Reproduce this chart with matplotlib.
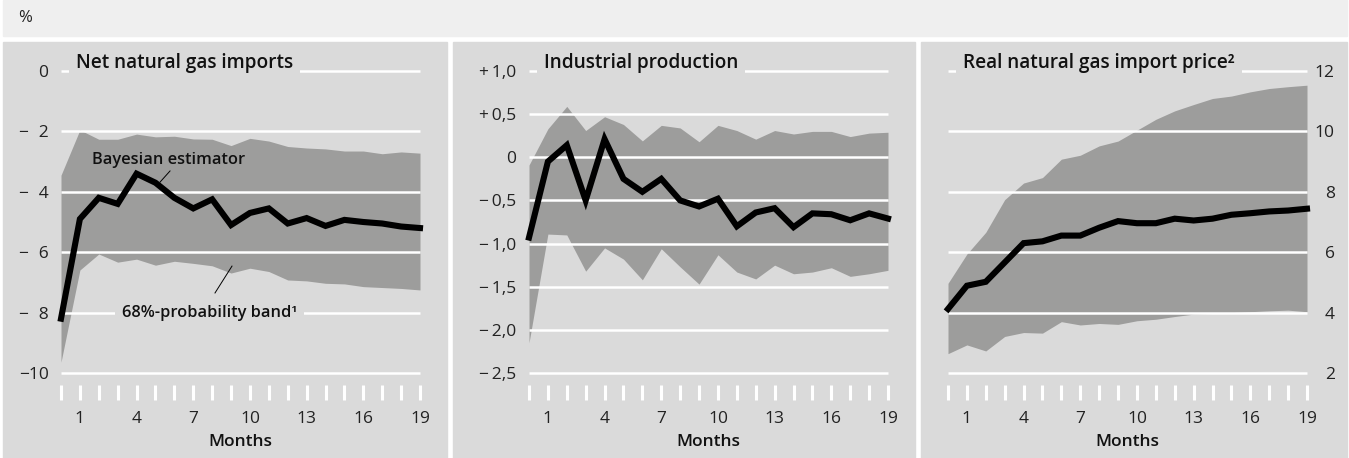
import matplotlib
matplotlib.use("Agg")
import matplotlib.pyplot as plt
from matplotlib.patches import Rectangle

plt.rcParams["font.family"] = ["Open Sans", "DejaVu Sans"]

# months after the shock
months = list(range(20))
month_ticks = [1, 4, 7, 10, 13, 16, 19]

# Net natural gas imports (%)
imports_est = [-8.2, -4.9, -4.2, -4.4, -3.4, -3.7, -4.2, -4.55, -4.25, -5.1,
               -4.7, -4.55, -5.05, -4.87, -5.13, -4.93, -5.0, -5.05, -5.15, -5.2]
imports_hi = [-3.45, -1.95, -2.26, -2.26, -2.09, -2.18, -2.16, -2.25, -2.26, -2.47,
              -2.23, -2.32, -2.5, -2.55, -2.58, -2.65, -2.65, -2.74, -2.68, -2.72]
imports_lo = [-9.64, -6.59, -6.06, -6.33, -6.23, -6.43, -6.3, -6.37, -6.45, -6.69,
              -6.53, -6.64, -6.92, -6.95, -7.03, -7.05, -7.14, -7.17, -7.2, -7.25]

# Industrial production (%)
prod_est = [-0.93, -0.05, 0.14, -0.5, 0.21, -0.25, -0.40, -0.25, -0.5, -0.57,
            -0.48, -0.80, -0.64, -0.59, -0.81, -0.65, -0.66, -0.73, -0.65, -0.71]
prod_hi = [-0.09, 0.33, 0.59, 0.31, 0.47, 0.38, 0.19, 0.37, 0.34, 0.18,
           0.37, 0.31, 0.21, 0.31, 0.27, 0.30, 0.30, 0.24, 0.28, 0.29]
prod_lo = [-2.15, -0.89, -0.90, -1.32, -1.05, -1.18, -1.42, -1.06, -1.27, -1.47,
           -1.13, -1.33, -1.41, -1.25, -1.35, -1.33, -1.28, -1.38, -1.35, -1.31]

# Real natural gas import price (%)
price_est = [4.12, 4.89, 5.02, 5.66, 6.30, 6.36, 6.55, 6.55, 6.81, 7.03,
             6.96, 6.96, 7.11, 7.05, 7.11, 7.24, 7.29, 7.35, 7.38, 7.44]
price_hi = [4.97, 5.94, 6.66, 7.74, 8.29, 8.47, 9.08, 9.21, 9.52, 9.68,
            10.04, 10.40, 10.68, 10.89, 11.09, 11.17, 11.31, 11.42, 11.48, 11.53]
price_lo = [2.64, 2.93, 2.73, 3.21, 3.34, 3.32, 3.70, 3.59, 3.64, 3.61,
            3.73, 3.78, 3.87, 3.95, 3.97, 4.0, 4.03, 4.06, 4.08, 4.03]

imports_yticks = [0, -2, -4, -6, -8, -10]
imports_ylabels = ["0", "\u2212\u20072", "\u2212\u20074", "\u2212\u20076", "\u2212\u20078", "\u221210"]
prod_yticks = [1.0, 0.5, 0, -0.5, -1.0, -1.5, -2.0, -2.5]
prod_ylabels = ["+\u20091,0", "+\u20090,5", "0", "\u2212\u20090,5", "\u2212\u20091,0",
                "\u2212\u20091,5", "\u2212\u20092,0", "\u2212\u20092,5"]
price_yticks = [12, 10, 8, 6, 4, 2]
price_ylabels = ["12", "10", "8", "6", "4", "2"]

W, H = 1349, 458
PANEL_BG = "#dadada"
BAND = "#9d9d9c"
TEXT = "#111111"


def px_rect(x0, y0, x1, y1):
    return [x0 / W, 1 - y1 / H, (x1 - x0) / W, (y1 - y0) / H]


fig = plt.figure(figsize=(W / 100, H / 100), dpi=100, facecolor="white")

# background strips
for x0, y0, x1, y1, c in [(3, 0, 1347, 36, "#efefef"),
                          (3, 42, 447, 458, PANEL_BG),
                          (453, 42, 915, 458, PANEL_BG),
                          (921, 42, 1347, 458, PANEL_BG)]:
    fig.patches.append(Rectangle((x0 / W, 1 - y1 / H), (x1 - x0) / W, (y1 - y0) / H,
                                 transform=fig.transFigure, color=c, zorder=-10))

fig.text(18 / W, 1 - 18 / H, "%", fontsize=12, va="center", ha="left", color="#222222")


def panel(x0, est, lo, hi, yticks, ylabels, title, right=False):
    x1 = x0 + 359
    ax = fig.add_axes(px_rect(x0, 65, x1, 400))
    ax.set_zorder(2)
    ax.set_facecolor("none")
    for s in ax.spines.values():
        s.set_visible(False)

    vmax, vmin = max(yticks), min(yticks)
    scale = (373 - 71) / (vmax - vmin)
    ax.set_ylim(vmin - 27 / scale, vmax + 6 / scale)
    ax.set_xlim(0, 19)

    ax.fill_between(months, lo, hi, color=BAND, lw=0, zorder=1)
    ax.hlines(yticks, 0, 19, color="white", lw=1.8, zorder=2, clip_on=False)
    ax.plot(months, est, color="black", lw=4.4, zorder=4, clip_on=False,
            solid_joinstyle="miter")

    ax.set_xticks(months)
    ax.set_xticklabels([str(m) if m in month_ticks else "" for m in months])
    ax.tick_params(axis="x", direction="in", length=10.8, width=2.2, color="white",
                   labelsize=12.5, labelcolor="#222222", pad=8)
    ax.set_xlabel("Months", fontsize=12.5, color=TEXT, fontweight="semibold", labelpad=5)

    ax.set_yticks(yticks)
    ax.set_yticklabels(ylabels)
    if right:
        ax.yaxis.tick_right()
        ax.tick_params(axis="y", length=0, labelsize=12.5, labelcolor="#222222", pad=20)
        for t in ax.get_yticklabels():
            t.set_ha("right")
    else:
        ax.tick_params(axis="y", length=0, labelsize=12.5, labelcolor="#222222", pad=9)

    ax.annotate(title, xy=(0, vmax), xytext=(10.8, 2.2), textcoords="offset points",
                fontsize=13.7, fontweight="semibold", va="baseline", ha="left",
                color=TEXT, zorder=5,
                bbox=dict(facecolor=PANEL_BG, edgecolor="none", pad=5))
    return ax


ax1 = panel(61, imports_est, imports_lo, imports_hi, imports_yticks, imports_ylabels,
            "Net natural gas imports")
ax2 = panel(529, prod_est, prod_lo, prod_hi, prod_yticks, prod_ylabels,
            "Industrial production")
ax3 = panel(948, price_est, price_lo, price_hi, price_yticks, price_ylabels,
            "Real natural gas import price\u00b2", right=True)

# labels inside the first panel
ax1.text(1.64, -2.95, "Bayesian estimator", fontsize=11.8, fontweight="semibold",
         va="center", ha="left", color=TEXT, zorder=5)
ax1.plot([5.77, 5.24], [-3.31, -3.68], color="black", lw=0.7, zorder=5)
ax1.text(7.88, -8, "68%-probability band\u00b9", fontsize=11.8, fontweight="semibold",
         va="center", ha="center", color=TEXT, zorder=5,
         bbox=dict(facecolor=PANEL_BG, edgecolor="none", pad=5))
ax1.plot([8.15, 9.05], [-7.35, -6.46], color="black", lw=0.7, zorder=5)

fig.savefig("out.png", dpi=100, facecolor="white")
